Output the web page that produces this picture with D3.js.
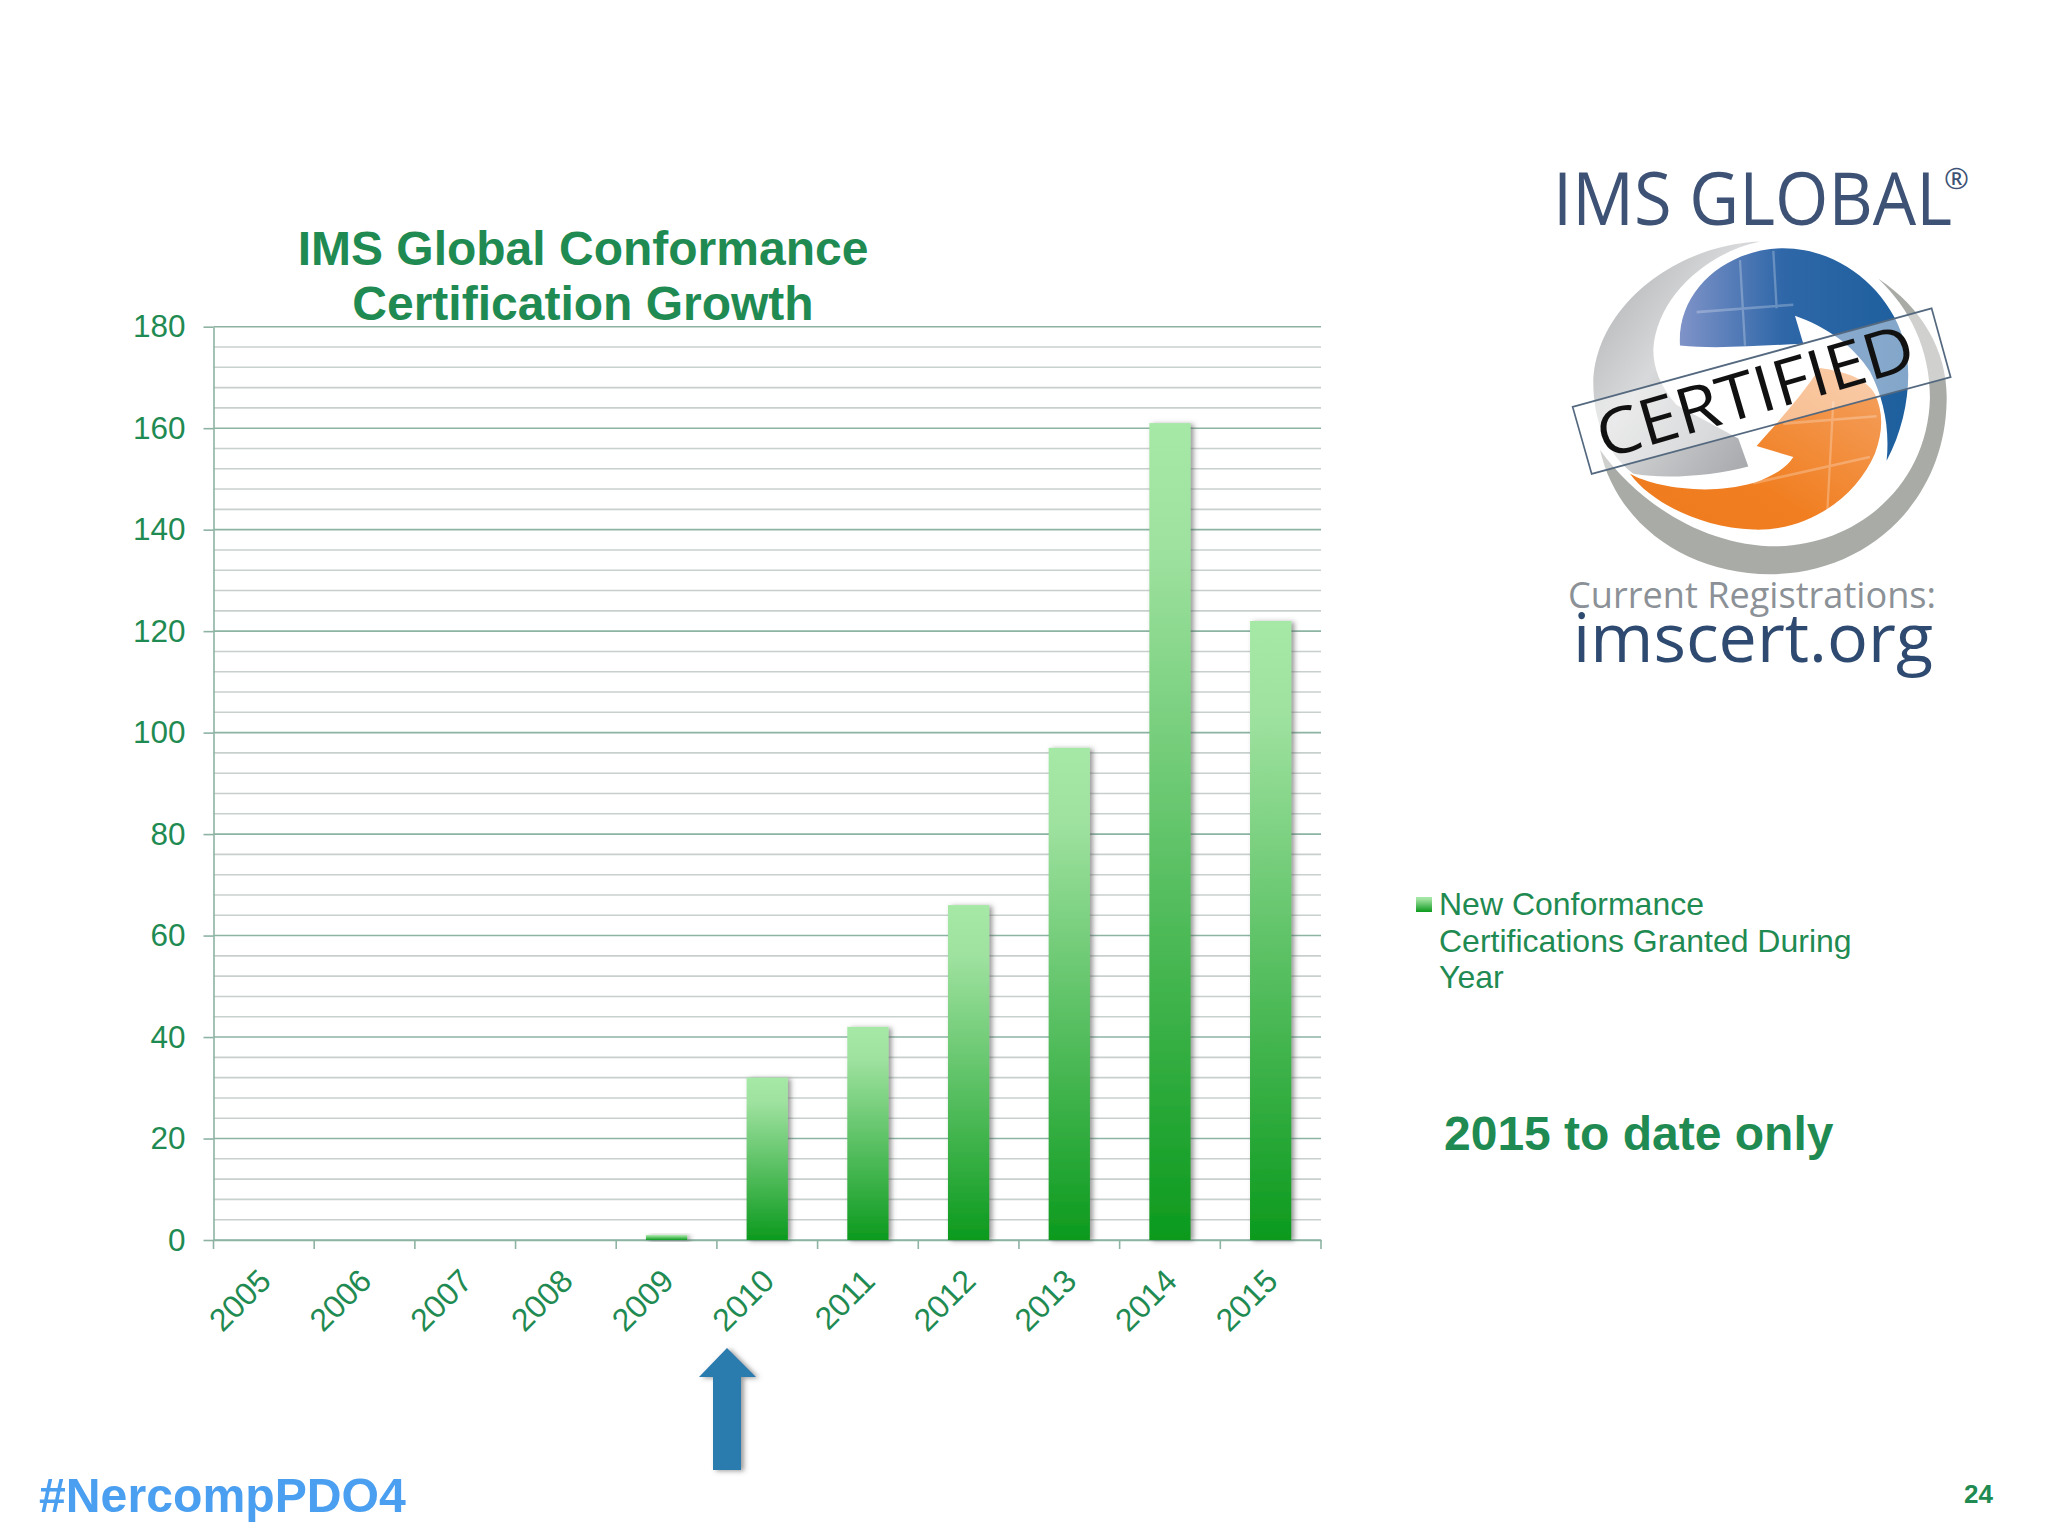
<!DOCTYPE html>
<html>
<head>
<meta charset="utf-8">
<title>IMS Global Conformance Certification Growth</title>
<script src="https://cdn.jsdelivr.net/npm/d3@7"></script>
<style>
html, body { margin: 0; padding: 0; background: #fff; }
svg { display: block; }
text { font-family: "Liberation Sans", Arial, sans-serif; }
.logo text { font-family: "Open Sans", sans-serif; }
</style>
</head>
<body>
<svg id="svg1" width="2048" height="1536"></svg>
<script>
var years = ["2005","2006","2007","2008","2009","2010","2011","2012","2013","2014","2015"];
var certifications = [0, 0, 0, 0, 1, 32, 42, 66, 97, 161, 122];
var y_ticks = [0, 20, 40, 60, 80, 100, 120, 140, 160, 180];
var y_grid = [0,4,8,12,16,20,24,28,32,36,40,44,48,52,56,60,64,68,72,76,80,84,88,92,96,100,104,108,112,116,120,124,128,132,136,140,144,148,152,156,160,164,168,172,176,180];
var title_lines = ["IMS Global Conformance", "Certification Growth"];
var legend_lines = ["New Conformance", "Certifications Granted During", "Year"];

var green = "#1f8b52";
var left = 213.5, right = 1321, top_y = 326.7, bottom_y = 1240;

var svg = d3.select("#svg1");
var defs = svg.append("defs");

var grad = defs.append("linearGradient").attr("id", "bar_grad")
    .attr("x1", 0).attr("y1", 0).attr("x2", 0).attr("y2", 1);
grad.append("stop").attr("offset", "0%").attr("stop-color", "#a6e9a6");
grad.append("stop").attr("offset", "15%").attr("stop-color", "#9fe2a0");
grad.append("stop").attr("offset", "100%").attr("stop-color", "#0c9a1e");

var shadow = defs.append("filter").attr("id", "shadow")
    .attr("x", "-30%").attr("y", "-30%").attr("width", "170%").attr("height", "160%");
shadow.append("feDropShadow").attr("dx", 3).attr("dy", 1).attr("stdDeviation", 2.5)
    .attr("flood-color", "#555").attr("flood-opacity", 0.6);

var x = d3.scaleBand().domain(years).range([left, right]).paddingInner(0.59).paddingOuter(0.295);
var y = d3.scaleLinear().domain([0, 180]).range([bottom_y, top_y]);

// gridlines, the 20-step ones are darker
svg.append("g").selectAll("line").data(y_grid).join("line")
    .attr("x1", left).attr("x2", right)
    .attr("y1", function(d){ return y(d); })
    .attr("y2", function(d){ return y(d); })
    .attr("stroke", function(d){ return d % 20 == 0 ? "#8db3a3" : "#c8d0cc"; })
    .attr("stroke-width", 1.6);

var y_axis = svg.append("g").attr("transform", "translate(" + left + ",0)")
    .call(d3.axisLeft(y).tickValues(y_ticks).tickSizeInner(10).tickSizeOuter(0).tickPadding(18));
y_axis.selectAll("line").attr("stroke", "#8db3a3").attr("stroke-width", 1.6);
y_axis.select(".domain").attr("stroke", "#8db3a3").attr("stroke-width", 1.6);
y_axis.selectAll("text").attr("fill", green).attr("font-size", 31.5)
    .style("font-family", '"Liberation Sans", Arial, sans-serif');

var x_axis = svg.append("g").attr("transform", "translate(0," + bottom_y + ")")
    .call(d3.axisBottom(x).tickSize(0).tickSizeOuter(0));
x_axis.select(".domain").attr("stroke", "#8db3a3").attr("stroke-width", 1.6);
x_axis.selectAll("text")
    .attr("fill", green).attr("font-size", 32)
    .style("font-family", '"Liberation Sans", Arial, sans-serif')
    .attr("text-anchor", "end")
    .attr("x", 0).attr("y", 0).attr("dy", "0.35em")
    .attr("transform", "translate(1,35) rotate(-45)");

// axis ticks sit between the categories
svg.append("g").selectAll("line").data(d3.range(years.length + 1)).join("line")
    .attr("x1", function(i){ return left + i * x.step(); })
    .attr("x2", function(i){ return left + i * x.step(); })
    .attr("y1", bottom_y).attr("y2", bottom_y + 9)
    .attr("stroke", "#8db3a3").attr("stroke-width", 1.6);

svg.append("g").selectAll("rect").data(years).join("rect")
    .attr("x", function(d){ return x(d); })
    .attr("width", x.bandwidth())
    .attr("y", function(d, i){ return y(certifications[i]); })
    .attr("height", function(d, i){ return bottom_y - y(certifications[i]); })
    .attr("fill", "url(#bar_grad)")
    .attr("filter", "url(#shadow)");

svg.append("g").selectAll("text").data(title_lines).join("text")
    .attr("x", 583).attr("y", function(d, i){ return 265 + i * 55; })
    .attr("text-anchor", "middle").attr("font-size", 48).attr("font-weight", "bold")
    .attr("fill", green).text(function(d){ return d; });

// legend
svg.append("rect").attr("x", 1416).attr("y", 897).attr("width", 16).attr("height", 15)
    .attr("fill", "url(#bar_grad)");
svg.append("g").selectAll("text").data(legend_lines).join("text")
    .attr("x", 1439).attr("y", function(d, i){ return 915 + i * 36.7; })
    .attr("font-size", 32).attr("fill", green).text(function(d){ return d; });

svg.append("text").attr("x", 1444).attr("y", 1150).attr("font-size", 48).attr("font-weight", "bold")
    .attr("fill", green).text("2015 to date only");
svg.append("text").attr("x", 39).attr("y", 1512).attr("font-size", 48.2).attr("font-weight", "bold")
    .attr("fill", "#4a9ff0").text("#NercompPDO4");
svg.append("text").attr("x", 1964).attr("y", 1503).attr("font-size", 26).attr("font-weight", "bold")
    .attr("fill", green).text("24");

// arrow under 2010
svg.append("path")
    .attr("d", "M727,1348 L756,1377 L741,1377 L741,1470 L713,1470 L713,1377 L699,1377 Z")
    .attr("fill", "#2b7bae").attr("filter", "url(#shadow)");

// logo, paths are in the units of the group below
var logo = svg.append("g").attr("class", "logo");
var art = logo.append("g").attr("transform", "translate(1500,130) scale(0.3333,0.3717)");

var blue_grad = defs.append("linearGradient").attr("id", "blue_grad").attr("x1", 0).attr("x2", 1).attr("y1", 0).attr("y2", 0);
blue_grad.append("stop").attr("offset", "0%").attr("stop-color", "#7f93c8");
blue_grad.append("stop").attr("offset", "45%").attr("stop-color", "#2f67a8");
blue_grad.append("stop").attr("offset", "100%").attr("stop-color", "#1d5f9e");
var gray_grad = defs.append("linearGradient").attr("id", "gray_grad").attr("x1", 0).attr("x2", 1).attr("y1", 0).attr("y2", 1);
gray_grad.append("stop").attr("offset", "0%").attr("stop-color", "#a9abad");
gray_grad.append("stop").attr("offset", "45%").attr("stop-color", "#d8d9da");
gray_grad.append("stop").attr("offset", "100%").attr("stop-color", "#a2a4a8");
var orange_grad = defs.append("linearGradient").attr("id", "orange_grad").attr("x1", 1).attr("x2", 0).attr("y1", 0).attr("y2", 1);
orange_grad.append("stop").attr("offset", "0%").attr("stop-color", "#f4a262");
orange_grad.append("stop").attr("offset", "60%").attr("stop-color", "#f17f22");
orange_grad.append("stop").attr("offset", "100%").attr("stop-color", "#ee7a1c");

art.append("path").attr("fill", "#a9aca6")
    .attr("d", "M1135,400 C1270,480 1345,600 1340,730 C1335,1000 1100,1195 810,1195 C560,1195 350,1060 300,860 C420,1010 620,1120 830,1120 C1080,1115 1285,950 1290,720 C1290,590 1230,480 1135,400 Z");
art.append("path").attr("fill", "url(#gray_grad)")
    .attr("d", "M780,300 C620,330 470,450 460,590 C460,640 480,690 530,740 L715,830 L745,905 C640,930 500,940 400,925 C320,870 280,780 280,680 C285,480 520,310 780,300 Z");
art.append("path").attr("fill", "url(#blue_grad)")
    .attr("d", "M540,580 C530,430 680,320 850,318 C1010,318 1160,420 1210,560 C1240,650 1225,780 1160,890 C1170,800 1150,720 1110,650 C1060,580 980,530 885,500 L910,575 C780,580 650,590 540,580 Z");
art.append("path").attr("fill", "url(#orange_grad)")
    .attr("d", "M390,925 C460,960 620,985 760,950 C820,930 860,910 880,880 L770,850 C830,790 900,720 960,640 C1040,650 1100,670 1125,710 C1150,760 1150,810 1125,870 C1070,985 930,1080 760,1075 C600,1070 450,1000 390,925 Z");
art.append("path").attr("fill", "none").attr("stroke", "#fff").attr("stroke-opacity", 0.25).attr("stroke-width", 7)
    .attr("d", "M590,490 L880,470 M720,350 L735,580 M820,325 L830,480 M1000,730 L980,1060 M850,790 L1130,770 M760,950 L1110,880");
art.append("path").attr("fill", "#fff").attr("fill-opacity", 0.45).attr("stroke", "#54697f").attr("stroke-width", 5)
    .attr("d", "M218,745 L1295,480 L1352,665 L275,925 Z");

logo.append("text").attr("x", 1553).attr("y", 225).attr("font-size", 74)
    .attr("textLength", 399).attr("lengthAdjust", "spacingAndGlyphs")
    .attr("fill", "#3d5275").text("IMS GLOBAL");
logo.append("text").attr("x", 1944).attr("y", 189).attr("font-size", 30)
    .attr("fill", "#3d5275").text("®");
logo.append("text").attr("transform", "translate(1604,459) rotate(-16.3)").attr("font-size", 64)
    .attr("textLength", 328).attr("lengthAdjust", "spacingAndGlyphs")
    .attr("fill", "#111").text("CERTIFIED");
logo.append("text").attr("x", 1568).attr("y", 608).attr("font-size", 36)
    .attr("textLength", 368).attr("lengthAdjust", "spacingAndGlyphs")
    .attr("fill", "#8b9196").text("Current Registrations:");
logo.append("text").attr("x", 1573).attr("y", 662).attr("font-size", 68)
    .attr("textLength", 360).attr("lengthAdjust", "spacingAndGlyphs")
    .attr("fill", "#2f4a70").text("imscert.org");
</script>
</body>
</html>
